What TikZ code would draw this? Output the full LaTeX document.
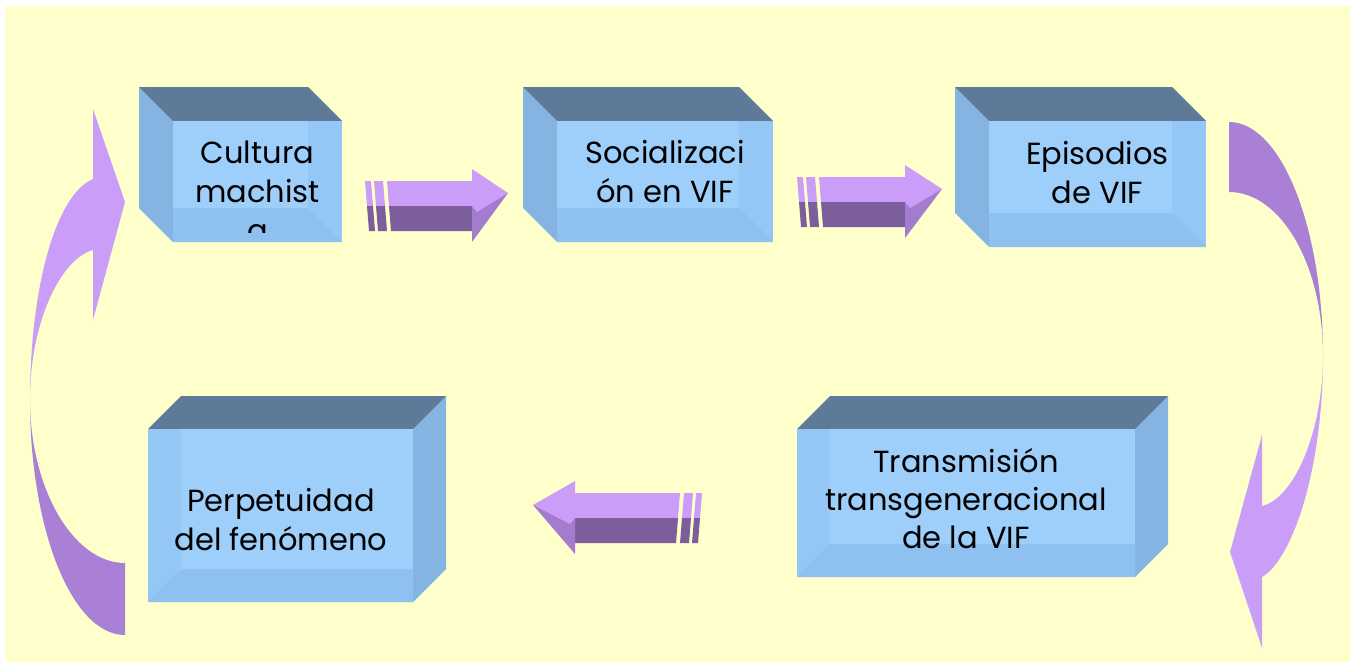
\documentclass[tikz,border=0pt]{standalone}
\usepackage{fontspec}
\setmainfont{Poppins}
\usepackage{tikz}
\usepackage{xcolor}
\definecolor{fondoamarillo}{RGB}{255,255,204}
\definecolor{cajatecho}{RGB}{93,123,153}
\definecolor{cajalado}{RGB}{134,180,226}
\definecolor{cajafrente}{RGB}{148,198,246}
\definecolor{cajafondo}{RGB}{158,206,250}
\definecolor{cajasuelo}{RGB}{142,192,240}
\definecolor{flechaclara}{RGB}{202,158,248}
\definecolor{flechaoscura}{RGB}{124,94,156}
\definecolor{flechamedia}{RGB}{163,124,205}
\definecolor{curvaoscura}{RGB}{170,128,214}

% caja 3D con fondo hacia la izquierda: x1 y1 x2 y2 (cara frontal)
\newcommand{\cajaizq}[4]{
  \fill[cajalado] (#1-34,#2-34) -- (#1,#2) -- (#1,#4) -- (#1-34,#4-34) -- cycle;
  \fill[cajatecho] (#1-34,#2-34) -- (#3-34,#2-34) -- (#3,#2) -- (#1,#2) -- cycle;
  \fill[cajafrente] (#1,#2) rectangle (#3,#4);
  \fill[cajafondo] (#1,#2) rectangle (#3-34,#4-34);
  \fill[cajasuelo] (#1,#4-34) -- (#3-34,#4-34) -- (#3,#4) -- (#1,#4) -- cycle;
}
% caja 3D con fondo hacia la derecha
\newcommand{\cajader}[4]{
  \fill[cajalado] (#3,#2) -- (#3+33,#2-33) -- (#3+33,#4-33) -- (#3,#4) -- cycle;
  \fill[cajatecho] (#1,#2) -- (#1+33,#2-33) -- (#3+33,#2-33) -- (#3,#2) -- cycle;
  \fill[cajafrente] (#1,#2) rectangle (#3,#4);
  \fill[cajafondo] (#1+33,#2) rectangle (#3,#4-33);
  \fill[cajasuelo] (#1+33,#4-33) -- (#3,#4-33) -- (#3,#4) -- (#1,#4) -- cycle;
}
% flecha de bloque: largo del cuerpo, largo de la punta
\newcommand{\flechabloque}[2]{
  \fill[flechaclara] (0,0) -- (6,0) -- (8,25) -- (2,25) -- cycle;
  \fill[flechaoscura] (2,25) -- (8,25) -- (10,50) -- (4,50) -- cycle;
  \fill[flechaclara] (9,0) -- (18,0) -- (20,25) -- (11,25) -- cycle;
  \fill[flechaoscura] (11,25) -- (20,25) -- (22,50) -- (13,50) -- cycle;
  \fill[flechaclara] (22,0) -- (#1,0) -- (#1,25) -- (24,25) -- cycle;
  \fill[flechaoscura] (24,25) -- (#1,25) -- (#1,50) -- (26,50) -- cycle;
  \fill[flechamedia] (#1,25) -- (#1+#2,12) -- (#1,61) -- cycle;
  \fill[flechaclara] (#1,-12) -- (#1+#2,12) -- (#1+5,31) -- (#1,25) -- cycle;
}

\begin{document}
\begin{tikzpicture}[x=1pt, y=-1pt,
    texto/.style={align=center, anchor=base, inner sep=0pt,
      font=\fontsize{30.5}{39}\selectfont}]
  \useasboundingbox (0,0) rectangle (1359,662);
  \fill[white] (0,0) rectangle (1359,662);
  \fill[fondoamarillo] (5,6) rectangle (1350,662);

  % cajas
  \cajaizq{173}{121}{342}{242}
  \cajaizq{557}{121}{773}{242}
  \cajaizq{989}{121}{1206}{247}
  \cajader{797}{429}{1135}{577}
  \cajader{148}{429}{413}{602}

  % textos (anclados en la linea base de la ultima linea)
  \begin{scope}
    \clip (173,121) rectangle (342,232);
    \node[texto] (cultura) at (257.5,241) {Cultura\\machist\\a};
  \end{scope}
  \node[texto] (socializacion) at (665,202) {Socializaci\\ón en VIF};
  \node[texto] (episodios) at (1097.5,203) {Episodios\\de VIF};
  \node[texto, font=\fontsize{30.5}{38}\selectfont] (transmision) at (966,548) {Transmisión\\transgeneracional\\de la VIF};
  \node[texto] (perpetuidad) at (281,550) {Perpetuidad\\del fenómeno};

  % flechas rectas
  \begin{scope}[shift={(365,181)}]
    \flechabloque{107}{36}
  \end{scope}
  \begin{scope}[shift={(797,177)}]
    \flechabloque{108}{37}
  \end{scope}
  \begin{scope}[shift={(702,493)}, xscale=-1]
    \flechabloque{127}{42}
  \end{scope}

  % flecha curva izquierda
  \fill[flechaclara] (93,179) -- (93,109) -- (125,202) -- (93,320) -- (93,250)
    .. controls (62,258) and (30,320) .. (30,400)
    .. controls (30,290) and (55,195) .. (93,179) -- cycle;
  \fill[curvaoscura] (30,400) .. controls (30,530) and (72,635) .. (125,635)
    -- (125,563) .. controls (73,563) and (30,488) .. (30,400) -- cycle;

  % flecha curva derecha
  \fill[curvaoscura] (1229,122) .. controls (1281,122) and (1323,227) .. (1323,356)
    .. controls (1323,265) and (1281,192) .. (1229,192) -- cycle;
  \fill[flechaclara] (1323,356) .. controls (1323,470) and (1292,560) .. (1262,577)
    -- (1262,648) -- (1230,552) -- (1262,435) -- (1262,506)
    .. controls (1295,498) and (1323,430) .. (1323,356) -- cycle;
\end{tikzpicture}
\end{document}
